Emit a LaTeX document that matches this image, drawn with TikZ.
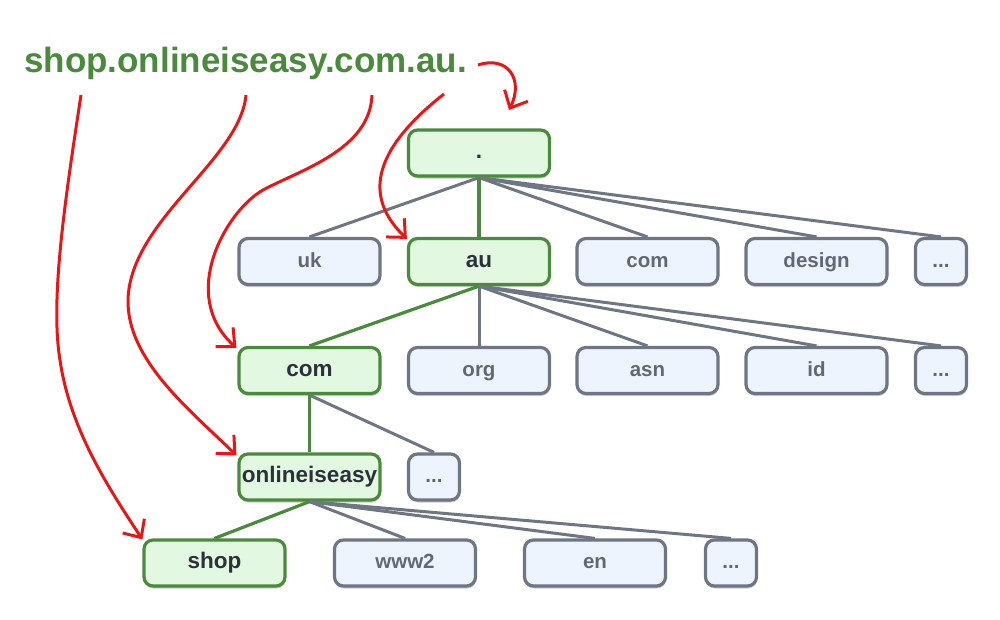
\documentclass[tikz,border=0pt]{standalone}
\usepackage{fontspec}
\setmainfont{Liberation Sans}
\usetikzlibrary{arrows.meta,shadows}
\definecolor{gborder}{HTML}{4A8A3C}
\definecolor{gfill}{HTML}{E3F8E0}
\definecolor{sborder}{HTML}{6F7683}
\definecolor{sfill}{HTML}{EDF4FD}
\definecolor{tdark}{HTML}{2B303B}
\definecolor{tgray}{HTML}{626873}
\definecolor{arrred}{HTML}{EA1515}
\definecolor{titlegreen}{HTML}{4A8A3C}
\begin{document}
\begin{tikzpicture}[x=1pt,y=-1pt,
  box/.style={rounded corners=9pt, line width=3.2pt, minimum height=46pt, inner sep=0pt,
    text height=16pt, text depth=5pt,
    drop shadow={shadow xshift=0.5pt, shadow yshift=-2.5pt, opacity=0.2, fill=black}},
  gbox/.style={box, draw=gborder, fill=gfill, text=tdark, minimum width=141pt,
    font=\fontsize{22.5}{26}\selectfont\bfseries},
  sbox/.style={box, draw=sborder, fill=sfill, text=tgray, minimum width=141pt,
    font=\fontsize{20.5}{24}\selectfont\bfseries},
  dbox/.style={sbox, minimum width=51pt},
  gedge/.style={draw=gborder, line width=3.2pt},
  sedge/.style={draw=sborder, line width=3pt},
  redarrow/.style={draw=arrred, line width=3pt, -{Straight Barb[length=14pt,width=26pt]}}
]
\useasboundingbox (0,0) rectangle (1000,619);

% title
\node[anchor=base west, inner sep=0pt, text=titlegreen,
  font=\fontsize{35}{40}\selectfont\bfseries] (title) at (24,72) {shop.onlineiseasy.com.au.};

% nodes
\node[gbox] (root) at (479,153) {.};

\node[sbox] (uk) at (309.5,261.5) {uk};
\node[gbox] (au) at (479,261.5) {au};
\node[sbox] (com1) at (647.5,261.5) {com};
\node[sbox] (design) at (816.5,261.5) {design};
\node[dbox] (dots1) at (941,261.5) {...};

\node[gbox] (com) at (309.5,370.5) {com};
\node[sbox] (org) at (479,370.5) {org};
\node[sbox] (asn) at (647.5,370.5) {asn};
\node[sbox] (id) at (816.5,370.5) {id};
\node[dbox] (dots2) at (941,370.5) {...};

\node[gbox] (oie) at (309.5,477) {onlineiseasy};
\node[dbox] (dots3) at (434,477) {...};

\node[gbox] (shop) at (214.5,563) {shop};
\node[sbox] (www2) at (405,563) {www2};
\node[sbox] (en) at (595,563) {en};
\node[dbox] (dots4) at (731,563) {...};

% edges
\draw[sedge] (root.south) -- (uk.north);
\draw[sedge] (root.south) -- (com1.north);
\draw[sedge] (root.south) -- (design.north);
\draw[sedge] (root.south) -- (dots1.north);
\draw[gedge] (root.south) -- (au.north);

\draw[sedge] (au.south) -- (org.north);
\draw[sedge] (au.south) -- (asn.north);
\draw[sedge] (au.south) -- (id.north);
\draw[sedge] (au.south) -- (dots2.north);
\draw[gedge] (au.south) -- (com.north);

\draw[sedge] (com.south) -- (dots3.north);
\draw[gedge] (com.south) -- (oie.north);

\draw[sedge] (oie.south) -- (www2.north);
\draw[sedge] (oie.south) -- (en.north);
\draw[sedge] (oie.south) -- (dots4.north);
\draw[gedge] (oie.south) -- (shop.north);

% red arrows
\coordinate (s1) at (478,65);
\coordinate (t1) at (509,110);
\coordinate (s2) at (444,94);
\coordinate (s3) at (372,95);
\coordinate (s4) at (246,95);
\coordinate (s5) at (81,95);

\draw[redarrow] (s1) .. controls (508,55) and (524,80) .. (t1);
\draw[redarrow] (s2) .. controls (360,160) and (372,205) .. ([shift={(0,2)}]au.north west);
\draw[redarrow] (s3) .. controls (370,150) and (300,170) .. (263,190)
   .. controls (226,211) and (178,295) .. ([shift={(-1,2)}]com.north west);
\draw[redarrow] (s4) .. controls (240,160) and (130,220) .. (128,300)
   .. controls (127,360) and (190,410) .. ([shift={(-1,3)}]oie.north west);
\draw[redarrow] (s5) .. controls (65,200) and (50,300) .. (60,360)
   .. controls (70,430) and (110,490) .. ([shift={(0,1)}]shop.north west);
\end{tikzpicture}
\end{document}
